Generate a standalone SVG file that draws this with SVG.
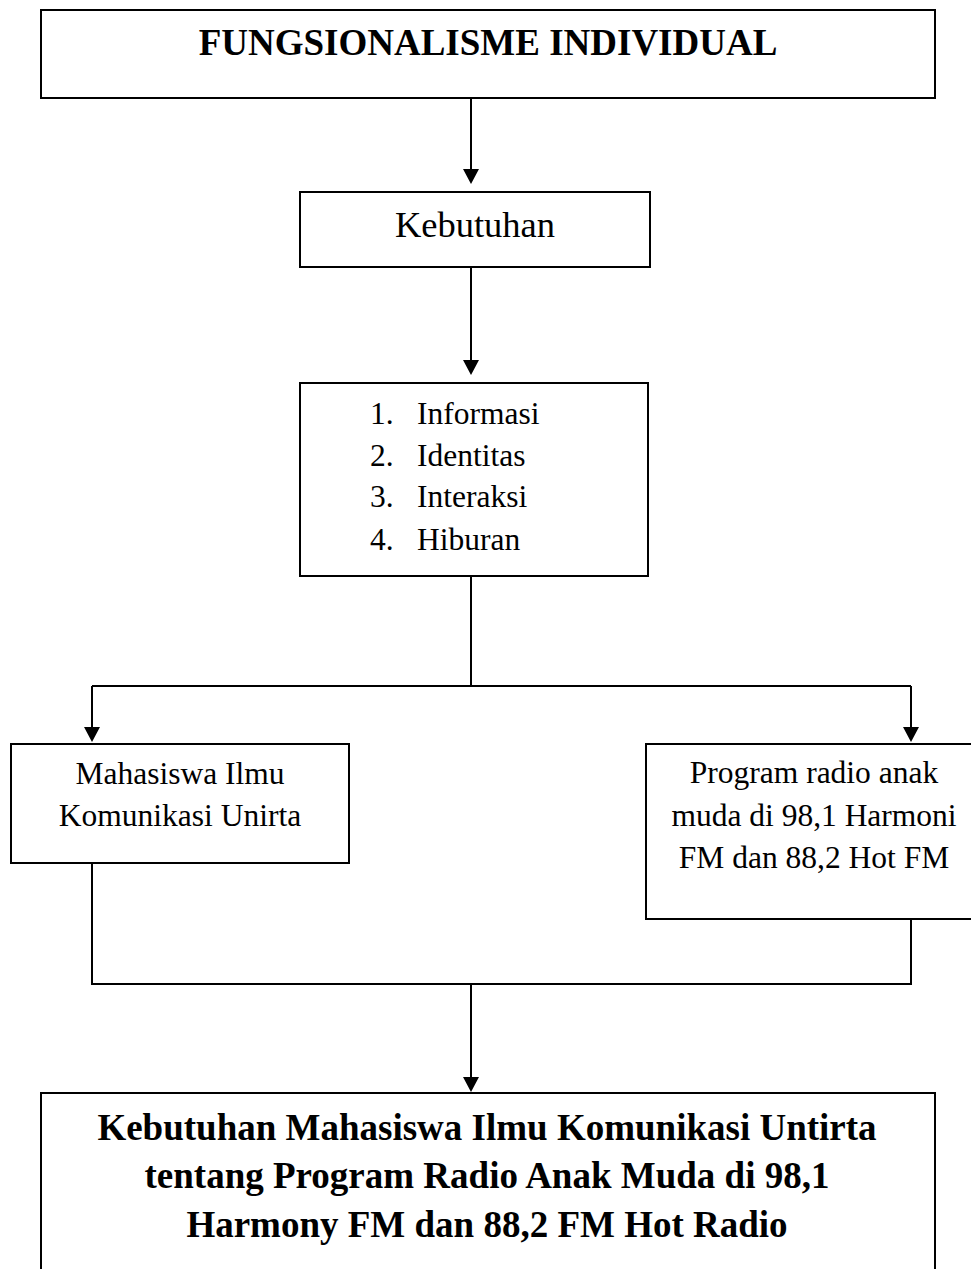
<svg xmlns="http://www.w3.org/2000/svg" width="971" height="1269" viewBox="0 0 971 1269">
<style>
.box{fill:#fff;stroke:#000;stroke-width:2}
.conn{fill:none;stroke:#000;stroke-width:2}
.t{font-family:"Liberation Serif","Times New Roman",serif;fill:#000}
.b{font-weight:bold;font-size:37px;text-anchor:middle}
.r{font-size:31.5px}
.c{text-anchor:middle}
</style>
<defs>
<marker id="arr" markerUnits="userSpaceOnUse" viewBox="0 0 15 16" markerWidth="15" markerHeight="16" refX="12" refY="8" orient="auto">
<path d="M0,0 L15,8 L0,16 Z" fill="#000"/>
</marker>
</defs>
<rect width="971" height="1269" fill="#fff"/>
<g id="connectors">
<path class="conn" d="M471,98 V181" marker-end="url(#arr)"/>
<path class="conn" d="M471,267 V372" marker-end="url(#arr)"/>
<path class="conn" d="M471,576 V686 M92,686 H911"/>
<path class="conn" d="M92,686 V739" marker-end="url(#arr)"/>
<path class="conn" d="M911,686 V739" marker-end="url(#arr)"/>
<path class="conn" d="M92,863 V984 H911 V919"/>
<path class="conn" d="M471,984 V1089" marker-end="url(#arr)"/>
</g>
<g id="node-title">
<rect class="box" x="41" y="10" width="894" height="88"/>
<text class="t b" x="488" y="55">FUNGSIONALISME INDIVIDUAL</text>
</g>
<g id="node-kebutuhan">
<rect class="box" x="300" y="192" width="350" height="75"/>
<text class="t c" x="475" y="237" font-size="36.5">Kebutuhan</text>
</g>
<g id="node-list">
<rect class="box" x="300" y="383" width="348" height="193"/>
<text class="t r" x="370" y="424">1.</text><text class="t r" x="417" y="424">Informasi</text>
<text class="t r" x="370" y="466">2.</text><text class="t r" x="417" y="466">Identitas</text>
<text class="t r" x="370" y="507">3.</text><text class="t r" x="417" y="507">Interaksi</text>
<text class="t r" x="370" y="550">4.</text><text class="t r" x="417" y="550">Hiburan</text>
</g>
<g id="node-mahasiswa">
<rect class="box" x="11" y="744" width="338" height="119"/>
<text class="t r c" x="180" y="784">Mahasiswa Ilmu</text>
<text class="t r c" x="180" y="826">Komunikasi Unirta</text>
</g>
<g id="node-program">
<rect class="box" x="646" y="744" width="335" height="175"/>
<text class="t r c" x="814" y="783">Program radio anak</text>
<text class="t r c" x="814" y="826">muda di 98,1 Harmoni</text>
<text class="t r c" x="814" y="868">FM dan 88,2 Hot FM</text>
</g>
<g id="node-result">
<rect class="box" x="41" y="1093" width="894" height="200"/>
<text class="t b" x="487" y="1140">Kebutuhan Mahasiswa Ilmu Komunikasi Untirta</text>
<text class="t b" x="487" y="1188">tentang Program Radio Anak Muda di 98,1</text>
<text class="t b" x="487" y="1237">Harmony FM dan 88,2 FM Hot Radio</text>
</g>
</svg>
